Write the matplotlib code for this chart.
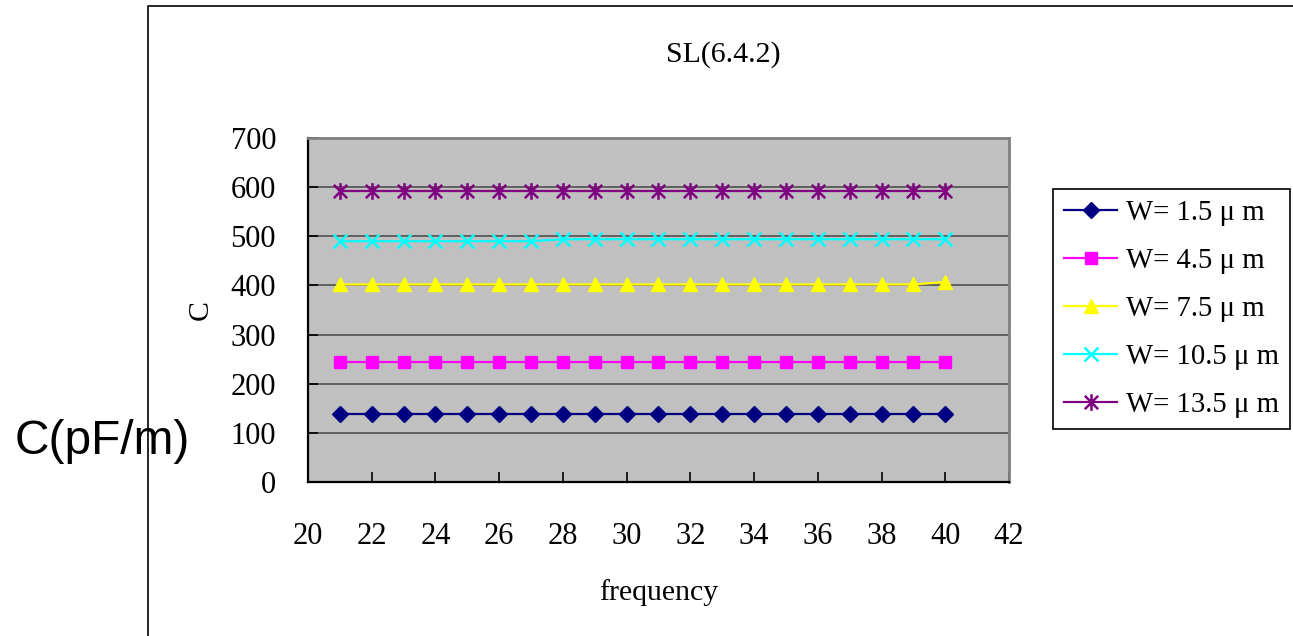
import matplotlib
matplotlib.use("Agg")
import matplotlib.pyplot as plt
from matplotlib.path import Path
from matplotlib.patches import Rectangle

freq = list(range(21, 41))
w15 = [138] * 20
w45 = [244] * 20
w75 = [402] * 19 + [407]
w105 = [490] * 7 + [494] * 13
w135 = [593] * 20

labels = ["W= 1.5 μ m", "W= 4.5 μ m", "W= 7.5 μ m", "W= 10.5 μ m", "W= 13.5 μ m"]
xticks = list(range(20, 43, 2))
yticks = list(range(0, 701, 100))

serif = ["Liberation Serif", "DejaVu Serif"]
plt.rcParams["font.family"] = serif

fig = plt.figure(figsize=(12.93, 6.36), dpi=100)
fig.patch.set_facecolor("white")

# outer chart frame (left and top edges visible)
fig.add_artist(Rectangle((148 / 1293, -0.1), 1.2, 1 - 6 / 636 + 0.1,
                         transform=fig.transFigure, fill=False,
                         edgecolor="black", lw=1.2))

ax = fig.add_axes([308 / 1293, 1 - 482 / 636, 701 / 1293, 344 / 636])
ax.set_facecolor("#C0C0C0")

star = Path([(0, -1), (0, 1), (-0.8, -0.8), (0.8, 0.8), (-0.8, 0.8), (0.8, -0.8)],
            [Path.MOVETO, Path.LINETO, Path.MOVETO, Path.LINETO, Path.MOVETO, Path.LINETO])

series = [
    (w15, "#000080", "D", 8, {}),
    (w45, "#FF00FF", "s", 8, {}),
    (w75, "#FFFF00", "^", 10, {}),
    (w105, "#00FFFF", "x", 10, {"markeredgewidth": 1.8}),
    (w135, "#800080", star, 12, {"markeredgewidth": 1.8}),
]
handles = []
for (vals, col, mk, ms, kw), lab in zip(series, labels):
    h, = ax.plot(freq, vals, color=col, lw=1.6, marker=mk, ms=ms,
                 markerfacecolor=col, markeredgecolor=col, label=lab, zorder=3, **kw)
    handles.append(h)

ax.set_xlim(20, 42)
ax.set_ylim(0, 700)
ax.set_xticks(xticks)
ax.set_yticks(yticks)
ax.yaxis.grid(True, color="#505050", lw=1.2)
ax.set_axisbelow(True)
ax.tick_params(axis="both", direction="in", length=7, width=1.2, labelsize=22,
               colors="black")
ax.tick_params(axis="x", pad=29)
ax.tick_params(axis="y", pad=23)
for s in ["left", "bottom"]:
    ax.spines[s].set_color("black")
    ax.spines[s].set_linewidth(1.6)
for s in ["top", "right"]:
    ax.spines[s].set_color("#808080")
    ax.spines[s].set_linewidth(2)

fig.text(723 / 1293, 1 - 55 / 636, "SL(6.4.2)", fontsize=21.5,
         ha="center", va="center")
ax.set_xlabel("frequency", fontsize=21.5, labelpad=20)
ax.set_ylabel("C", fontsize=21.5, labelpad=12)

fig.text(15 / 1293, 1 - 442 / 636, "C(pF/m)", fontsize=34.5,
         family=["Liberation Sans", "DejaVu Sans"], ha="left", va="center")

leg = fig.legend(handles=handles, labels=labels, loc="upper left",
                 bbox_to_anchor=(1053 / 1293, 1 - 189 / 636),
                 fontsize=20.7, frameon=True, fancybox=False, edgecolor="black",
                 framealpha=1, handlelength=1.85, handletextpad=0.3,
                 labelspacing=0.76, borderpad=0.38, borderaxespad=0)
leg.get_frame().set_linewidth(1.2)

fig.savefig("out.png", dpi=100, facecolor="white")
